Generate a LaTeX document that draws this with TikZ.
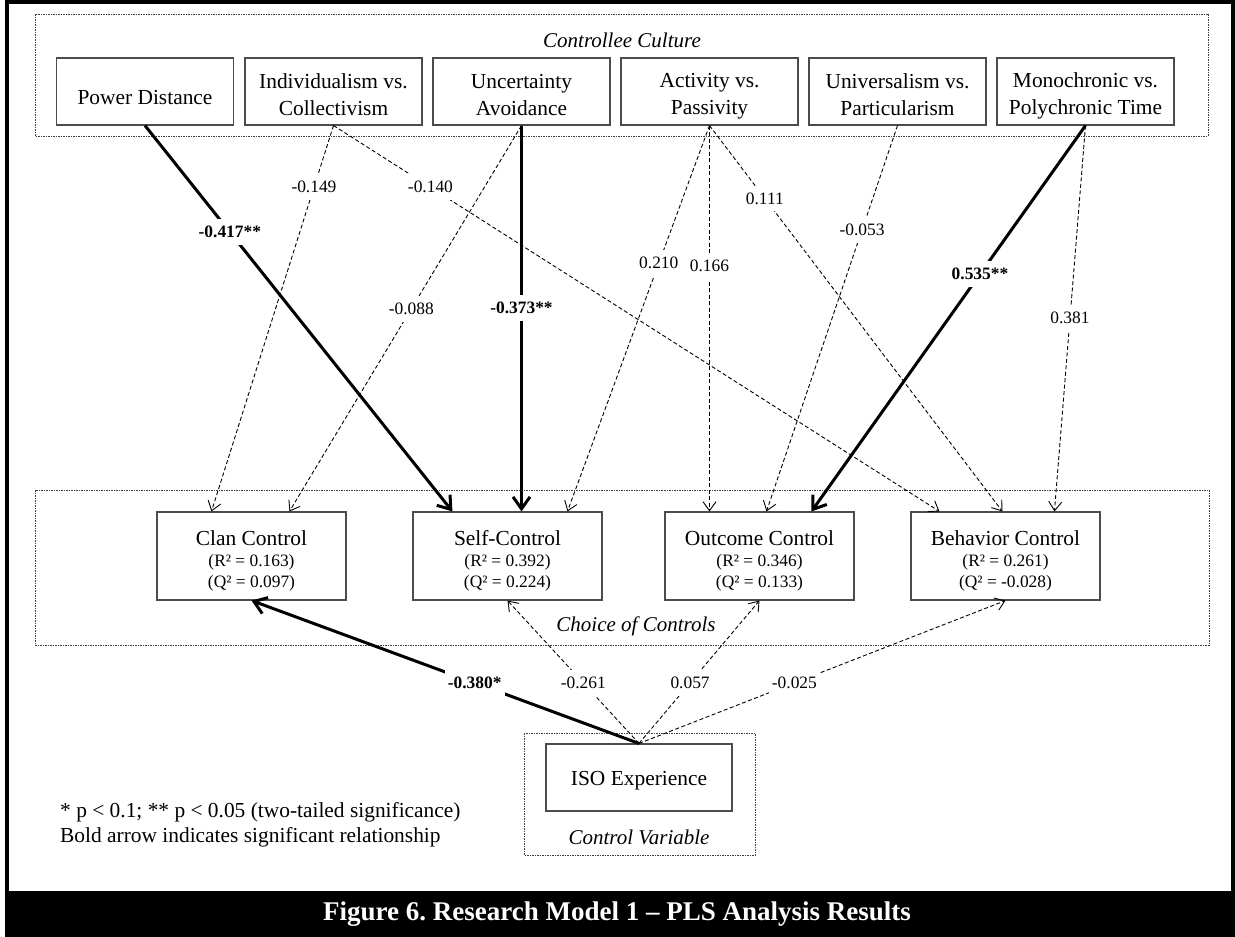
\documentclass[tikz,border=0pt]{standalone}
\usepackage{fontspec}
\setmainfont{Liberation Serif}
\usetikzlibrary{arrows.meta}
\newcommand{\fsz}[2]{\fontsize{#1}{#2}\selectfont}
\frenchspacing
\begin{document}
\begin{tikzpicture}[x=1pt,y=-1pt,
  topbox/.style={draw=black!70, line width=1.1pt, minimum width=177pt, minimum height=67pt, inner sep=0pt},
  boxtext/.style={align=center, font=\fsz{21.4}{27}, inner sep=0pt},
  midbox/.style={draw=black!70, line width=1.1pt, minimum width=189pt, minimum height=88pt, inner sep=0pt},
  isobox/.style={draw=black!70, line width=1.1pt, minimum width=186pt, minimum height=67pt, inner sep=0pt},
  groupbox/.style={draw=black!75, line width=0.8pt, dash pattern=on 1.5pt off 1pt},
  grouptitle/.style={font=\fsz{21}{25}\itshape},
  nametext/.style={font=\fsz{21.4}{25}, inner sep=0pt},
  stattext/.style={font=\fsz{17.4}{21}, inner sep=0pt},
  weak/.style={draw, line width=0.9pt, dash pattern=on 4pt off 2.5pt, -{Straight Barb[length=9pt,width=13pt,line width=0.9pt]}},
  strong/.style={draw, line width=3pt, -{Straight Barb[length=12pt,width=17pt]}},
  coef/.style={fill=white, inner xsep=3pt, inner ysep=7pt, font=\fsz{17.4}{20}},
  coefb/.style={coef, font=\fsz{17.4}{20}\bfseries},
]
\useasboundingbox (0,0) rectangle (1235,937);
% bottom caption band and frame
\fill[black] (5,893) rectangle (1235,937);
\draw[line width=3.5pt] (7,2) rectangle (1233,893);
\node[text=white, font=\fsz{27}{30}\bfseries] (cap) at (617,914) {Figure 6. Research Model 1 – PLS Analysis Results};

% group boxes
\draw[groupbox] (35,14) rectangle (1208,136);
\draw[groupbox] (35,490) rectangle (1209,645);
\draw[groupbox] (524,733) rectangle (755,855);
\node[grouptitle] (t1) at (622,40) {Controllee Culture};
\node[grouptitle] (t2) at (636,626) {Choice of Controls};
\node[grouptitle] (t3) at (639,837) {Control Variable};

% top boxes
\node[topbox] (pd)    at (145,91.5)    {};
\node[topbox] (indiv) at (333.5,91.5)  {};
\node[topbox] (unc)   at (521.5,91.5)  {};
\node[topbox] (act)   at (709.5,91.5)  {};
\node[topbox] (univ)  at (897.5,91.5)  {};
\node[topbox] (mono)  at (1085.5,91.5) {};
\node[boxtext] (pdT)    at (145,97.5)    {Power Distance};
\node[boxtext] (indivT) at (333.5,95)  {Individualism vs.\\Collectivism};
\node[boxtext] (uncT)   at (521.5,95)  {Uncertainty\\Avoidance};
\node[boxtext] (actT)   at (709.5,96)  {Activity vs.\\Passivity};
\node[boxtext] (univT)  at (897.5,95)  {Universalism vs.\\Particularism};
\node[boxtext] (monoT)  at (1085.5,96) {Monochronic vs.\\Polychronic Time};

% middle boxes
\node[midbox] (clan) at (251.5,556) {};
\node[midbox] (self) at (507.5,556) {};
\node[midbox] (out)  at (759.5,556) {};
\node[midbox] (beh)  at (1005.5,556) {};
\node[nametext] (clanN) at (251.5,538) {Clan Control};
\node[stattext] (clanR) at (251.5,562) {(R² = 0.163)};
\node[stattext] (clanQ) at (251.5,583) {(Q² = 0.097)};
\node[nametext] (selfN) at (507.5,538) {Self-Control};
\node[stattext] (selfR) at (507.5,562) {(R² = 0.392)};
\node[stattext] (selfQ) at (507.5,583) {(Q² = 0.224)};
\node[nametext] (outN) at (759.5,538) {Outcome Control};
\node[stattext] (outR) at (759.5,562) {(R² = 0.346)};
\node[stattext] (outQ) at (759.5,583) {(Q² = 0.133)};
\node[nametext] (behN) at (1005.5,538) {Behavior Control};
\node[stattext] (behR) at (1005.5,562) {(R² = 0.261)};
\node[stattext] (behQ) at (1005.5,583) {(Q² = -0.028)};

% ISO box
\node[isobox] (iso) at (639,777.5) {};
\node[nametext] (isoT) at (639,781) {ISO Experience};

% footnote
\node[anchor=west, align=left, font=\fsz{21.4}{25}, inner sep=0pt] (note) at (60,824.5) {* p < 0.1; ** p < 0.05 (two-tailed significance)\\Bold arrow indicates significant relationship};

% top connectors
\draw[strong] (pd.south) -- node[coefb, pos=0.276] {-0.417**} ([xshift=40pt]self.north west);
\draw[weak] (indiv.south) -- node[coef, pos=0.16] {-0.149} ([xshift=55pt]clan.north west);
\draw[weak] (indiv.south) -- node[coef, pos=0.16] {-0.140} ([xshift=29pt]beh.north west);
\draw[weak] (unc.south) -- node[coef, pos=0.475] {-0.088} ([xshift=133pt]clan.north west);
\draw[strong] (unc.south) -- node[coefb, pos=0.473] {-0.373**} (unc.south |- self.north);
\draw[weak] (act.south) -- node[coef, pos=0.357] {0.210} ([xshift=155pt]self.north west);
\draw[weak] (act.south) -- node[coef, pos=0.364] {0.166} (act.south |- out.north);
\draw[weak] (act.south) -- node[coef, pos=0.189] {0.111} ([xshift=92pt]beh.north west);
\draw[weak] (univ.south) -- node[coef, pos=0.271] {-0.053} ([xshift=102pt]out.north west);
\draw[strong] (mono.south) -- node[coefb, pos=0.385] {0.535**} ([xshift=147pt]out.north west);
\draw[weak] (mono.south) -- node[coef, pos=0.499] {0.381} ([xshift=144pt]beh.north west);

% bottom connectors
\draw[strong] (iso.north) -- node[coefb, pos=0.424] {-0.380*} (clan.south);
\draw[weak] (iso.north) -- node[coef, pos=0.424] {-0.261} (self.south);
\draw[weak] (iso.north) -- node[coef, pos=0.424] {0.057} (out.south);
\draw[weak] (iso.north) -- node[coef, pos=0.424] {-0.025} (beh.south);
\end{tikzpicture}
\end{document}
